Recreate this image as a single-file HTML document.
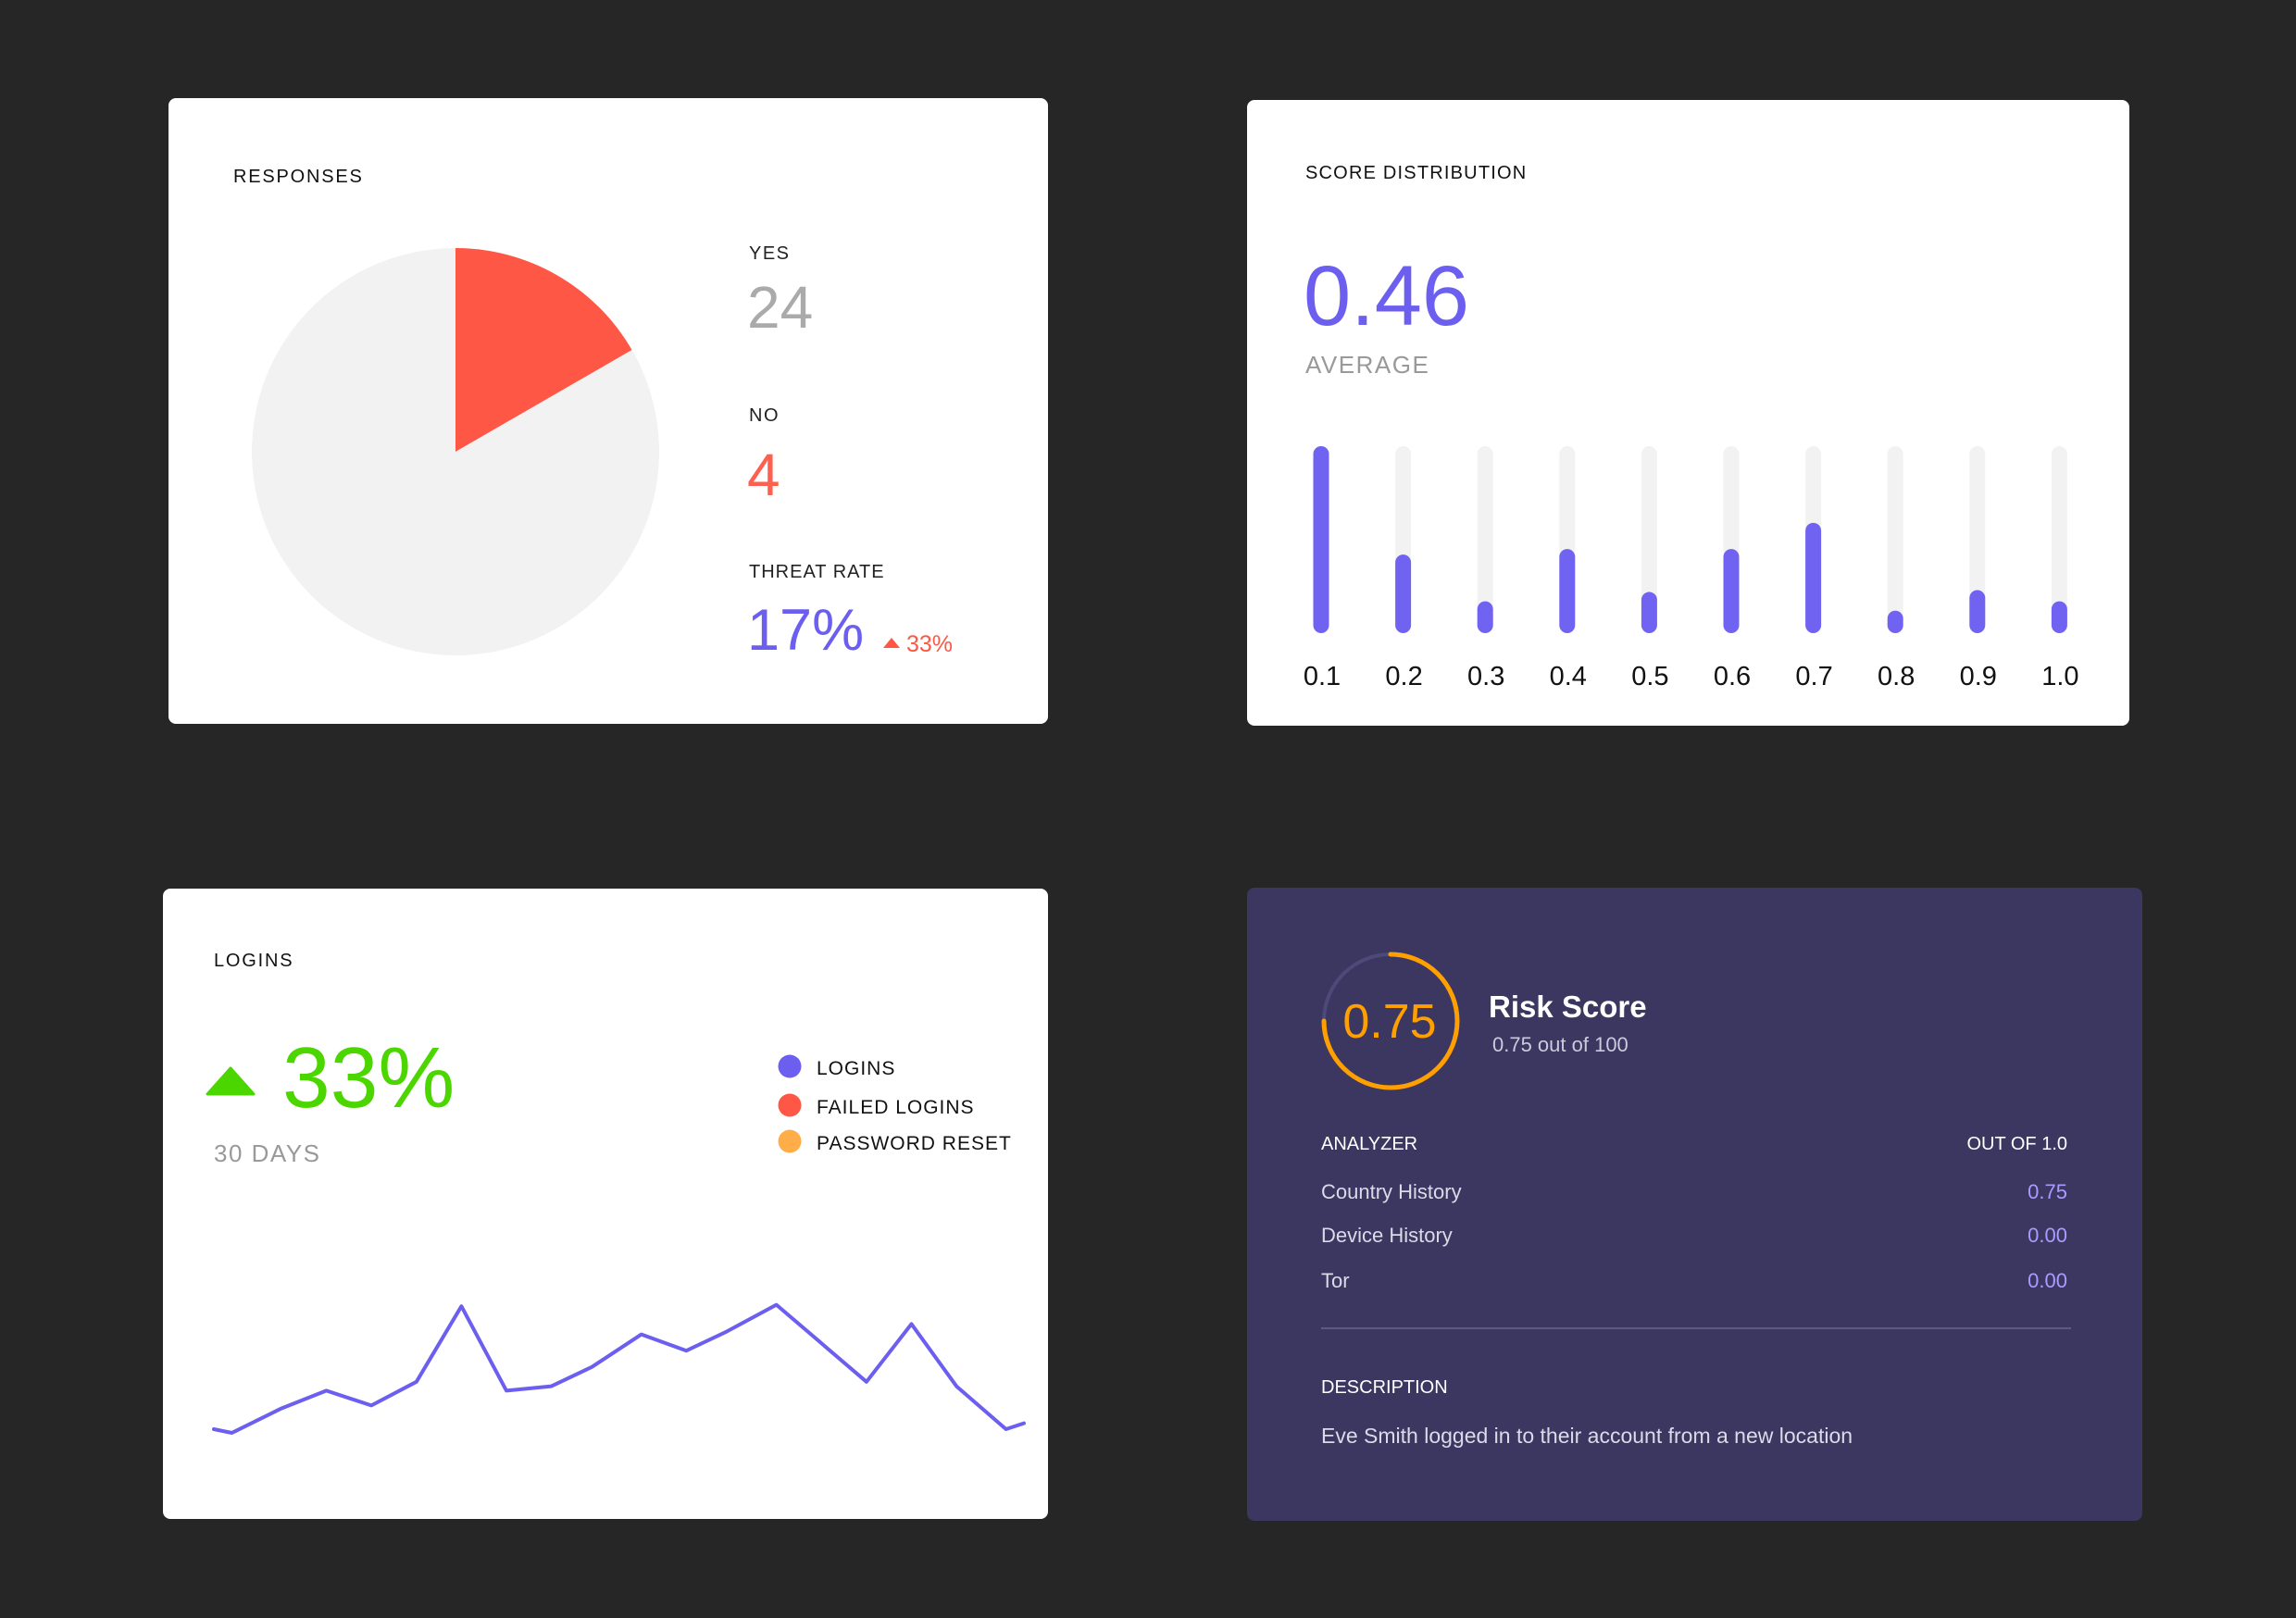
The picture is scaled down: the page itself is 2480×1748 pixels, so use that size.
<!DOCTYPE html>
<html><head><meta charset="utf-8">
<style>
html,body{margin:0;padding:0;background:#262626;}
svg{display:block;}
text{font-family:"Liberation Sans","DejaVu Sans",sans-serif;}
</style></head>
<body>
<svg id="root" width="2480" height="1748" viewBox="0 0 2480 1748" xmlns="http://www.w3.org/2000/svg">
<rect x="0" y="0" width="2480" height="1748" fill="#262626"/>

<g>
<rect x="182" y="106" width="950" height="676" rx="8" fill="#fff"/>
<text x="252" y="197" font-size="20" letter-spacing="1.8" fill="#111">RESPONSES</text>
<g id="pie"></g>
<text x="809" y="280" font-size="20" letter-spacing="1.5" fill="#222">YES</text>
<text x="807" y="354" font-size="64" fill="#aaa">24</text>
<text x="809" y="455" font-size="20" letter-spacing="1.5" fill="#222">NO</text>
<text x="807" y="535" font-size="64" fill="#ff5f4f">4</text>
<text x="809" y="624" font-size="20" letter-spacing="1" fill="#222">THREAT RATE</text>
<text x="807" y="702" font-size="63" fill="#6c5ff0">17%</text>
<polygon points="954,700 972,700 963,689" fill="#ff5745"/>
<text x="979" y="704" font-size="25" fill="#ff5745">33%</text>
</g>

<g>
<rect x="1347" y="108" width="953" height="676" rx="8" fill="#fff"/>
<text x="1410" y="193" font-size="20" letter-spacing="1.2" fill="#111">SCORE DISTRIBUTION</text>
<text x="1408" y="351" font-size="92" fill="#6c5ff0">0.46</text>
<text x="1410" y="403" font-size="26" letter-spacing="1.5" fill="#999">AVERAGE</text>
<g id="bars"></g>
</g>

<g>
<rect x="176" y="960" width="956" height="681" rx="8" fill="#fff"/>
<text x="231" y="1044" font-size="20" letter-spacing="1.8" fill="#111">LOGINS</text>
<polygon points="224,1182 274,1182 249,1154" fill="#4cd600" stroke="#4cd600" stroke-width="3" stroke-linejoin="round"/>
<text x="305" y="1196" font-size="93" fill="#4cd600">33%</text>
<text x="231" y="1255" font-size="26" letter-spacing="1.5" fill="#999">30 DAYS</text>
<g><circle cx="853" cy="1152" r="12.5" fill="#6c5ff0"/><text x="882" y="1161" font-size="21" letter-spacing="1" fill="#111">LOGINS</text></g>
<g><circle cx="853" cy="1194" r="12.5" fill="#ff5745"/><text x="882" y="1203" font-size="21" letter-spacing="1" fill="#111">FAILED LOGINS</text></g>
<g><circle cx="853" cy="1233" r="12.5" fill="#ffad48"/><text x="882" y="1242" font-size="21" letter-spacing="1" fill="#111">PASSWORD RESET</text></g>
<g id="line"></g>
</g>

<g>
<rect x="1347" y="959" width="967" height="684" rx="8" fill="#3b3761"/>
<circle cx="1502" cy="1103" r="72" fill="none" stroke="#4d4979" stroke-width="4"/>
<g id="gauge"></g>
<text x="1501" y="1121" font-size="52" fill="#ff9f00" text-anchor="middle">0.75</text>
<text x="1608" y="1099" font-size="33" font-weight="bold" fill="#fff">Risk Score</text>
<text x="1612" y="1136" font-size="22" fill="#ccc9dd">0.75 out of 100</text>
<text x="1427" y="1242" font-size="20" fill="#fff">ANALYZER</text>
<text x="2233" y="1242" font-size="20" fill="#fff" text-anchor="end">OUT OF 1.0</text>
<text x="1427" y="1295" font-size="22" fill="#dcdae8">Country History</text>
<text x="2233" y="1295" font-size="22" fill="#a99bff" text-anchor="end">0.75</text>
<text x="1427" y="1342" font-size="22" fill="#dcdae8">Device History</text>
<text x="2233" y="1342" font-size="22" fill="#a99bff" text-anchor="end">0.00</text>
<text x="1427" y="1391" font-size="22" fill="#dcdae8">Tor</text>
<text x="2233" y="1391" font-size="22" fill="#a99bff" text-anchor="end">0.00</text>
<rect x="1427" y="1434" width="810" height="2" fill="#5d5a80"/>
<text x="1427" y="1505" font-size="20" fill="#fff">DESCRIPTION</text>
<text x="1427" y="1559" font-size="23" fill="#dcdae8">Eve Smith logged in to their account from a new location</text>
</g>
</svg>
<script>
const NS="http://www.w3.org/2000/svg";
// Pie data: slice = no / yes (threat-rate share of circle)
const pieLabels=["no","rest"];
const pieValues=[4,20];
// Score distribution data
const scoreCategories=["0.1","0.2","0.3","0.4","0.5","0.6","0.7","0.8","0.9","1.0"];
const scoreValues=[1.0,0.42,0.17,0.45,0.22,0.45,0.59,0.12,0.23,0.17];
// Logins line data
const loginDays=[0,0.4,1.5,2.5,3.5,4.5,5.5,6.5,7.5,8.4,9.5,10.5,11.4,12.5,14.5,15.5,16.5,17.6,18];
const loginValues=[10,7.5,24,36,26,42,93,36,39,52,74,63,76,94,42,81,39,10,14];
// Gauge
const gaugeValue=[0.75];

function mk(tag,attrs,parent){const e=document.createElementNS(NS,tag);for(const k in attrs)e.setAttribute(k,attrs[k]);parent.appendChild(e);return e;}

(function(){
 const g=document.getElementById('pie');const cx=492,cy=488,r=220;
 const total=pieValues.reduce((a,b)=>a+b,0);const colors=["#ff5745","#f2f2f2"];
 let a0=0;
 pieValues.forEach((v,i)=>{
  const a1=a0+v/total*2*Math.PI;
  const x0=cx+r*Math.sin(a0),y0=cy-r*Math.cos(a0),x1=cx+r*Math.sin(a1),y1=cy-r*Math.cos(a1);
  const large=(a1-a0)>Math.PI?1:0;
  const p=mk('path',{d:`M${cx},${cy} L${x0},${y0} A${r},${r} 0 ${large} 1 ${x1},${y1} Z`,fill:colors[i]},g);
  
  
  a0=a1;
 });
 g.appendChild(g.firstChild);
})();

(function(){
 const g=document.getElementById('bars');
 const x0=1427,step=88.6,top=482,bottom=684,w=17;
 const yS=v=>bottom-v*(bottom-top);
 scoreCategories.forEach((c,i)=>{
  const cx=x0+i*step;
  const t=mk('rect',{x:cx-w/2,y:top,width:w,height:bottom-top,rx:w/2,fill:'#f2f2f2'},g);
  
  
  const y=yS(scoreValues[i]);
  const b=mk('rect',{x:cx-w/2,y:y,width:w,height:bottom-y,rx:w/2,fill:'#7163f1'},g);
  
  
  const l=mk('text',{x:cx+1,y:740,'font-size':29,'text-anchor':'middle',fill:'#111'},g);
  l.textContent=c;
  
  
 });
})();

(function(){
 const g=document.getElementById('line');
 const xS=d=>231+d*(1106-231)/18;
 const yS=v=>1560-v*1.6;
 const pts=loginDays.map((d,i)=>xS(d).toFixed(1)+','+yS(loginValues[i]).toFixed(1)).join(' ');
 const p=mk('polyline',{points:pts,fill:'none',stroke:'#6c5ff0','stroke-width':4,'stroke-linejoin':'round','stroke-linecap':'round'},g);
 
 
})();

(function(){
 const g=document.getElementById('gauge');const cx=1502,cy=1103,r=72;
 const a=gaugeValue[0]*2*Math.PI;
 const x1=cx+r*Math.sin(a),y1=cy-r*Math.cos(a);
 const p=mk('path',{d:`M${cx},${cy-r} A${r},${r} 0 ${a>Math.PI?1:0} 1 ${x1},${y1}`,fill:'none',stroke:'#ff9f00','stroke-width':5,'stroke-linecap':'round'},g);
 
 
})();
</script>
</body></html>
